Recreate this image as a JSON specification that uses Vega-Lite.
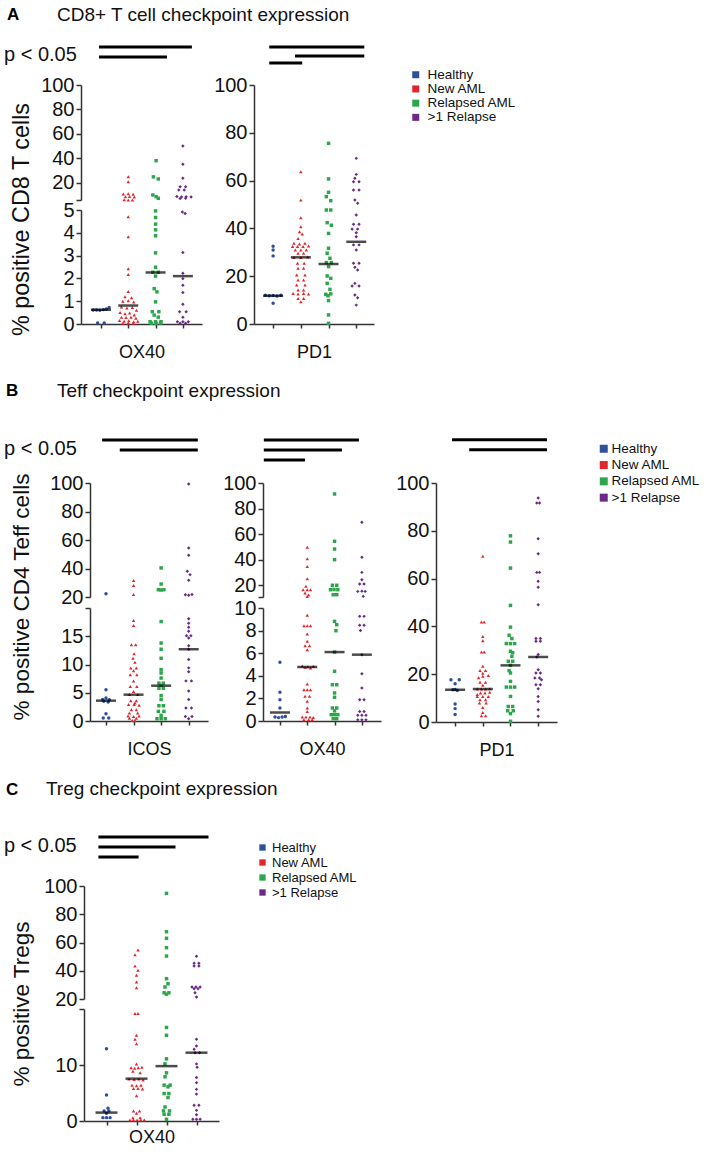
{
"$schema":"https://vega.github.io/schema/vega-lite/v6.json",
"background":"white",
"padding":{"left":3,"top":6,"right":5,"bottom":5},
"config":{"font":"Liberation Sans","view":{"stroke":null},
"axis":{"labelFontSize":20,"labelColor":"#111","labelFont":"Liberation Sans","titleFont":"Liberation Sans","titleFontSize":18,"titleFontWeight":"normal","titleColor":"#111","domainColor":"#333","domainWidth":1.5,"tickColor":"#333","tickWidth":1.5,"tickSize":5,"labelPadding":2,"grid":false,"labelOverlap":false},
"legend":{"labelFont":"Liberation Sans","labelColor":"#111","symbolStrokeWidth":0,"symbolOpacity":1}},
"datasets":{
"A1":[{"g":"Healthy","x":0.72,"y":0.61},{"g":"Healthy","x":0.84,"y":0.61},{"g":"Healthy","x":0.96,"y":0.6},{"g":"Healthy","x":1.09,"y":0.63},{"g":"Healthy","x":1.2,"y":0.66},{"g":"Healthy","x":1.3,"y":0.72},{"g":"Healthy","x":0.88,"y":0.04},{"g":"Healthy","x":1.12,"y":0.04},
{"g":"New AML","x":2.0,"y":25.1},{"g":"New AML","x":2.0,"y":21},{"g":"New AML","x":1.82,"y":11},{"g":"New AML","x":2.0,"y":11.3},{"g":"New AML","x":2.18,"y":10.8},{"g":"New AML","x":1.9,"y":8.8},{"g":"New AML","x":2.05,"y":8.9},{"g":"New AML","x":2.22,"y":8.6},{"g":"New AML","x":1.85,"y":6.3},{"g":"New AML","x":2.0,"y":6.1},{"g":"New AML","x":2.15,"y":6.2},{"g":"New AML","x":2.0,"y":4.7},{"g":"New AML","x":2.0,"y":3.83},{"g":"New AML","x":2.0,"y":2.42},{"g":"New AML","x":2.0,"y":2.17},{"g":"New AML","x":2.0,"y":1.43},{"g":"New AML","x":1.88,"y":1.2},{"g":"New AML","x":2.12,"y":1.15},{"g":"New AML","x":1.8,"y":1.0},{"g":"New AML","x":2.0,"y":1.02},{"g":"New AML","x":2.2,"y":0.97},{"g":"New AML","x":1.75,"y":0.75},{"g":"New AML","x":1.95,"y":0.7},{"g":"New AML","x":2.15,"y":0.72},{"g":"New AML","x":2.3,"y":0.6},{"g":"New AML","x":1.7,"y":0.5},{"g":"New AML","x":1.88,"y":0.45},{"g":"New AML","x":2.05,"y":0.48},{"g":"New AML","x":2.22,"y":0.4},{"g":"New AML","x":1.75,"y":0.3},{"g":"New AML","x":1.92,"y":0.28},{"g":"New AML","x":2.1,"y":0.3},{"g":"New AML","x":2.28,"y":0.25},{"g":"New AML","x":1.68,"y":0.15},{"g":"New AML","x":1.85,"y":0.12},{"g":"New AML","x":2.02,"y":0.14},{"g":"New AML","x":2.2,"y":0.1},{"g":"New AML","x":2.35,"y":0.12},{"g":"New AML","x":1.8,"y":0.03},{"g":"New AML","x":2.0,"y":0.04},{"g":"New AML","x":2.18,"y":0.03},
{"g":"Relapsed AML","x":3.02,"y":38.2},{"g":"Relapsed AML","x":2.92,"y":25},{"g":"Relapsed AML","x":3.1,"y":23.3},{"g":"Relapsed AML","x":2.9,"y":10.2},{"g":"Relapsed AML","x":3.02,"y":8.8},{"g":"Relapsed AML","x":3.1,"y":7.5},{"g":"Relapsed AML","x":3.0,"y":4.96},{"g":"Relapsed AML","x":3.0,"y":4.67},{"g":"Relapsed AML","x":3.0,"y":4.38},{"g":"Relapsed AML","x":3.0,"y":4.13},{"g":"Relapsed AML","x":3.0,"y":3.87},{"g":"Relapsed AML","x":3.0,"y":3.12},{"g":"Relapsed AML","x":3.0,"y":2.49},{"g":"Relapsed AML","x":2.9,"y":2.27},{"g":"Relapsed AML","x":3.1,"y":2.27},{"g":"Relapsed AML","x":3.0,"y":2.1},{"g":"Relapsed AML","x":2.95,"y":1.55},{"g":"Relapsed AML","x":3.05,"y":1.41},{"g":"Relapsed AML","x":3.0,"y":0.97},{"g":"Relapsed AML","x":2.88,"y":0.54},{"g":"Relapsed AML","x":3.12,"y":0.54},{"g":"Relapsed AML","x":2.95,"y":0.39},{"g":"Relapsed AML","x":3.1,"y":0.3},{"g":"Relapsed AML","x":2.8,"y":0.1},{"g":"Relapsed AML","x":3.0,"y":0.1},{"g":"Relapsed AML","x":3.2,"y":0.1},{"g":"Relapsed AML","x":2.85,"y":0.03},{"g":"Relapsed AML","x":3.02,"y":0.03},{"g":"Relapsed AML","x":3.18,"y":0.04},
{"g":">1 Relapse","x":4.0,"y":50.2},{"g":">1 Relapse","x":4.0,"y":35.3},{"g":">1 Relapse","x":4.0,"y":23.8},{"g":">1 Relapse","x":3.9,"y":17},{"g":">1 Relapse","x":4.1,"y":17},{"g":">1 Relapse","x":3.85,"y":14.3},{"g":">1 Relapse","x":4.05,"y":14.3},{"g":">1 Relapse","x":3.78,"y":9},{"g":">1 Relapse","x":3.95,"y":8.6},{"g":">1 Relapse","x":4.12,"y":8.8},{"g":">1 Relapse","x":4.3,"y":8.5},{"g":">1 Relapse","x":3.9,"y":7.4},{"g":">1 Relapse","x":4.1,"y":7.6},{"g":">1 Relapse","x":3.98,"y":4.91},{"g":">1 Relapse","x":4.08,"y":4.85},{"g":">1 Relapse","x":4.0,"y":3.14},{"g":">1 Relapse","x":4.0,"y":2.23},{"g":">1 Relapse","x":4.0,"y":1.99},{"g":">1 Relapse","x":4.0,"y":1.7},{"g":">1 Relapse","x":4.0,"y":1.38},{"g":">1 Relapse","x":4.0,"y":0.87},{"g":">1 Relapse","x":3.88,"y":0.54},{"g":">1 Relapse","x":4.12,"y":0.54},{"g":">1 Relapse","x":4.0,"y":0.3},{"g":">1 Relapse","x":3.8,"y":0.1},{"g":">1 Relapse","x":4.0,"y":0.1},{"g":">1 Relapse","x":4.2,"y":0.1},{"g":">1 Relapse","x":3.9,"y":0.03},{"g":">1 Relapse","x":4.1,"y":0.03}],
"A2":[{"g":"Healthy","x":1.0,"y":32.5},{"g":"Healthy","x":1.0,"y":31},{"g":"Healthy","x":1.0,"y":28.5},{"g":"Healthy","x":0.72,"y":12},{"g":"Healthy","x":0.86,"y":11.8},{"g":"Healthy","x":1.0,"y":11.9},{"g":"Healthy","x":1.14,"y":11.7},{"g":"Healthy","x":1.28,"y":12},{"g":"Healthy","x":1.0,"y":8.7},
{"g":"New AML","x":2.0,"y":63.7},{"g":"New AML","x":2.0,"y":51.9},{"g":"New AML","x":2.0,"y":44.5},{"g":"New AML","x":2.0,"y":40.7},{"g":"New AML","x":1.95,"y":38.6},{"g":"New AML","x":2.05,"y":37.7},{"g":"New AML","x":1.9,"y":35.8},{"g":"New AML","x":1.75,"y":33.8},{"g":"New AML","x":1.95,"y":33.5},{"g":"New AML","x":2.15,"y":33.8},{"g":"New AML","x":1.7,"y":32.4},{"g":"New AML","x":1.88,"y":32.4},{"g":"New AML","x":2.08,"y":32.4},{"g":"New AML","x":2.28,"y":32.6},{"g":"New AML","x":1.8,"y":31},{"g":"New AML","x":2.0,"y":31},{"g":"New AML","x":2.2,"y":31},{"g":"New AML","x":1.9,"y":29.6},{"g":"New AML","x":2.1,"y":29.6},{"g":"New AML","x":1.75,"y":27.8},{"g":"New AML","x":2.0,"y":27.8},{"g":"New AML","x":2.25,"y":28},{"g":"New AML","x":1.88,"y":25.4},{"g":"New AML","x":2.12,"y":25.4},{"g":"New AML","x":1.9,"y":23.3},{"g":"New AML","x":2.1,"y":23.3},{"g":"New AML","x":1.85,"y":20.5},{"g":"New AML","x":2.15,"y":20.5},{"g":"New AML","x":1.9,"y":18.4},{"g":"New AML","x":2.1,"y":18.4},{"g":"New AML","x":1.85,"y":16.3},{"g":"New AML","x":2.15,"y":16.3},{"g":"New AML","x":1.9,"y":14.2},{"g":"New AML","x":2.1,"y":14.2},{"g":"New AML","x":1.72,"y":12.8},{"g":"New AML","x":1.9,"y":12.6},{"g":"New AML","x":2.1,"y":12.8},{"g":"New AML","x":2.28,"y":12.6},{"g":"New AML","x":1.9,"y":10.7},{"g":"New AML","x":2.1,"y":10.7},{"g":"New AML","x":2.0,"y":9.3},
{"g":"Relapsed AML","x":3.0,"y":75.6},{"g":"Relapsed AML","x":3.0,"y":60.7},{"g":"Relapsed AML","x":3.0,"y":55.1},{"g":"Relapsed AML","x":2.92,"y":53.3},{"g":"Relapsed AML","x":3.08,"y":51.6},{"g":"Relapsed AML","x":2.92,"y":47.7},{"g":"Relapsed AML","x":3.08,"y":47.7},{"g":"Relapsed AML","x":2.95,"y":42.4},{"g":"Relapsed AML","x":3.1,"y":41.3},{"g":"Relapsed AML","x":3.0,"y":37.9},{"g":"Relapsed AML","x":3.0,"y":31.7},{"g":"Relapsed AML","x":2.95,"y":29.6},{"g":"Relapsed AML","x":3.05,"y":27.5},{"g":"Relapsed AML","x":2.92,"y":25.7},{"g":"Relapsed AML","x":3.1,"y":25.7},{"g":"Relapsed AML","x":3.0,"y":24},{"g":"Relapsed AML","x":2.95,"y":20.1},{"g":"Relapsed AML","x":3.08,"y":19.1},{"g":"Relapsed AML","x":2.95,"y":17},{"g":"Relapsed AML","x":3.05,"y":14.5},{"g":"Relapsed AML","x":2.9,"y":12.4},{"g":"Relapsed AML","x":3.08,"y":12.6},{"g":"Relapsed AML","x":2.98,"y":11.8},{"g":"Relapsed AML","x":3.0,"y":9.8},{"g":"Relapsed AML","x":3.0,"y":3.8},{"g":"Relapsed AML","x":3.0,"y":0.3},
{"g":">1 Relapse","x":4.0,"y":69.3},{"g":">1 Relapse","x":4.0,"y":62.6},{"g":">1 Relapse","x":3.95,"y":61},{"g":">1 Relapse","x":3.9,"y":59.5},{"g":">1 Relapse","x":4.1,"y":59.5},{"g":">1 Relapse","x":3.9,"y":56.1},{"g":">1 Relapse","x":4.1,"y":56.1},{"g":">1 Relapse","x":3.95,"y":51.9},{"g":">1 Relapse","x":4.05,"y":50.5},{"g":">1 Relapse","x":4.0,"y":45.6},{"g":">1 Relapse","x":3.9,"y":41.7},{"g":">1 Relapse","x":4.1,"y":41.7},{"g":">1 Relapse","x":3.85,"y":39.7},{"g":">1 Relapse","x":4.05,"y":39.7},{"g":">1 Relapse","x":4.0,"y":38.2},{"g":">1 Relapse","x":4.0,"y":36.5},{"g":">1 Relapse","x":3.9,"y":33.1},{"g":">1 Relapse","x":4.1,"y":33.1},{"g":">1 Relapse","x":4.0,"y":31},{"g":">1 Relapse","x":3.9,"y":25.4},{"g":">1 Relapse","x":4.1,"y":25.4},{"g":">1 Relapse","x":3.95,"y":23.7},{"g":">1 Relapse","x":4.05,"y":22.6},{"g":">1 Relapse","x":3.95,"y":17},{"g":">1 Relapse","x":3.85,"y":15.9},{"g":">1 Relapse","x":4.1,"y":15.9},{"g":">1 Relapse","x":3.95,"y":12.1},{"g":">1 Relapse","x":4.05,"y":11},{"g":">1 Relapse","x":4.0,"y":7.9}],
"B1":[{"g":"Healthy","x":1.0,"y":22.3},{"g":"Healthy","x":1.0,"y":5.55},{"g":"Healthy","x":1.0,"y":4.07},{"g":"Healthy","x":0.88,"y":3.8},{"g":"Healthy","x":1.12,"y":3.75},{"g":"Healthy","x":0.92,"y":3.5},{"g":"Healthy","x":1.08,"y":3.35},{"g":"Healthy","x":1.0,"y":1.3},{"g":"Healthy","x":0.9,"y":0.53},{"g":"Healthy","x":1.1,"y":0.53},
{"g":"New AML","x":2.0,"y":31.5},{"g":"New AML","x":2.0,"y":28},{"g":"New AML","x":2.0,"y":21.7},{"g":"New AML","x":2.0,"y":17.8},{"g":"New AML","x":2.0,"y":16.9},{"g":"New AML","x":1.92,"y":13.5},{"g":"New AML","x":2.08,"y":13.5},{"g":"New AML","x":2.02,"y":11.9},{"g":"New AML","x":1.98,"y":11.1},{"g":"New AML","x":2.05,"y":10.4},{"g":"New AML","x":1.9,"y":9.4},{"g":"New AML","x":2.1,"y":9.4},{"g":"New AML","x":2.0,"y":8.9},{"g":"New AML","x":1.88,"y":8.2},{"g":"New AML","x":2.12,"y":8.2},{"g":"New AML","x":2.0,"y":7.1},{"g":"New AML","x":1.88,"y":6.1},{"g":"New AML","x":2.12,"y":6.1},{"g":"New AML","x":2.0,"y":5.2},{"g":"New AML","x":1.85,"y":4.7},{"g":"New AML","x":2.15,"y":4.7},{"g":"New AML","x":1.9,"y":3.6},{"g":"New AML","x":2.1,"y":3.6},{"g":"New AML","x":2.05,"y":3.2},{"g":"New AML","x":1.82,"y":2.9},{"g":"New AML","x":2.02,"y":2.9},{"g":"New AML","x":2.2,"y":2.8},{"g":"New AML","x":1.92,"y":2.0},{"g":"New AML","x":2.1,"y":2.0},{"g":"New AML","x":1.85,"y":1.4},{"g":"New AML","x":2.15,"y":1.4},{"g":"New AML","x":1.8,"y":0.9},{"g":"New AML","x":2.0,"y":0.8},{"g":"New AML","x":2.2,"y":0.9},{"g":"New AML","x":1.85,"y":0.5},{"g":"New AML","x":2.1,"y":0.5},{"g":"New AML","x":1.95,"y":0.1},{"g":"New AML","x":2.05,"y":0.1},
{"g":"Relapsed AML","x":3.0,"y":40.4},{"g":"Relapsed AML","x":3.0,"y":29.1},{"g":"Relapsed AML","x":2.9,"y":25.1},{"g":"Relapsed AML","x":3.0,"y":24.9},{"g":"Relapsed AML","x":3.1,"y":25.1},{"g":"Relapsed AML","x":3.0,"y":17.6},{"g":"Relapsed AML","x":3.0,"y":13.8},{"g":"Relapsed AML","x":3.0,"y":12.7},{"g":"Relapsed AML","x":3.0,"y":11.1},{"g":"Relapsed AML","x":3.0,"y":9.1},{"g":"Relapsed AML","x":3.0,"y":8.5},{"g":"Relapsed AML","x":3.0,"y":7.6},{"g":"Relapsed AML","x":2.92,"y":6.7},{"g":"Relapsed AML","x":3.08,"y":6.7},{"g":"Relapsed AML","x":3.0,"y":6.3},{"g":"Relapsed AML","x":2.92,"y":5.8},{"g":"Relapsed AML","x":3.08,"y":5.8},{"g":"Relapsed AML","x":3.0,"y":4.5},{"g":"Relapsed AML","x":3.0,"y":3.8},{"g":"Relapsed AML","x":2.92,"y":2.7},{"g":"Relapsed AML","x":3.08,"y":2.7},{"g":"Relapsed AML","x":2.9,"y":1.7},{"g":"Relapsed AML","x":3.1,"y":1.7},{"g":"Relapsed AML","x":3.0,"y":1.0},{"g":"Relapsed AML","x":2.85,"y":0.4},{"g":"Relapsed AML","x":3.0,"y":0.4},{"g":"Relapsed AML","x":3.15,"y":0.4},
{"g":">1 Relapse","x":4.0,"y":99.3},{"g":">1 Relapse","x":4.0,"y":54.4},{"g":">1 Relapse","x":4.0,"y":49.3},{"g":">1 Relapse","x":3.95,"y":38.1},{"g":">1 Relapse","x":4.05,"y":35.7},{"g":">1 Relapse","x":4.0,"y":31.7},{"g":">1 Relapse","x":3.88,"y":21.6},{"g":">1 Relapse","x":4.0,"y":21.3},{"g":">1 Relapse","x":4.12,"y":21.8},{"g":">1 Relapse","x":4.0,"y":18.1},{"g":">1 Relapse","x":4.0,"y":17.3},{"g":">1 Relapse","x":4.0,"y":16.6},{"g":">1 Relapse","x":4.0,"y":15.9},{"g":">1 Relapse","x":3.92,"y":15.1},{"g":">1 Relapse","x":4.08,"y":15.1},{"g":">1 Relapse","x":4.0,"y":14.7},{"g":">1 Relapse","x":4.0,"y":13.3},{"g":">1 Relapse","x":4.0,"y":12.7},{"g":">1 Relapse","x":4.0,"y":10.9},{"g":">1 Relapse","x":4.0,"y":9.4},{"g":">1 Relapse","x":4.0,"y":8.7},{"g":">1 Relapse","x":3.9,"y":7.1},{"g":">1 Relapse","x":4.1,"y":7.1},{"g":">1 Relapse","x":4.0,"y":5.3},{"g":">1 Relapse","x":4.0,"y":3.8},{"g":">1 Relapse","x":3.9,"y":2.3},{"g":">1 Relapse","x":4.1,"y":2.3},{"g":">1 Relapse","x":3.88,"y":0.8},{"g":">1 Relapse","x":4.12,"y":0.8},{"g":">1 Relapse","x":4.0,"y":0.4}],
"B2":[{"g":"Healthy","x":1.0,"y":5.2},{"g":"Healthy","x":1.0,"y":2.54},{"g":"Healthy","x":1.0,"y":1.89},{"g":"Healthy","x":1.0,"y":1.15},{"g":"Healthy","x":0.82,"y":0.35},{"g":"Healthy","x":0.95,"y":0.3},{"g":"Healthy","x":1.08,"y":0.35},{"g":"Healthy","x":1.2,"y":0.4},
{"g":"New AML","x":2.0,"y":49.6},{"g":"New AML","x":2.0,"y":40.6},{"g":"New AML","x":2.0,"y":34.6},{"g":"New AML","x":2.0,"y":24.9},{"g":"New AML","x":1.95,"y":19},{"g":"New AML","x":1.85,"y":16.3},{"g":"New AML","x":2.0,"y":16.3},{"g":"New AML","x":2.12,"y":16.3},{"g":"New AML","x":1.92,"y":13.7},{"g":"New AML","x":2.05,"y":12.2},{"g":"New AML","x":2.0,"y":10.9},{"g":"New AML","x":2.0,"y":9.35},{"g":"New AML","x":1.88,"y":8.43},{"g":"New AML","x":2.0,"y":8.43},{"g":"New AML","x":2.12,"y":8.43},{"g":"New AML","x":2.0,"y":7.7},{"g":"New AML","x":2.0,"y":7.05},{"g":"New AML","x":1.92,"y":6.67},{"g":"New AML","x":2.08,"y":6.67},{"g":"New AML","x":2.0,"y":6.3},{"g":"New AML","x":1.82,"y":4.87},{"g":"New AML","x":1.92,"y":4.75},{"g":"New AML","x":2.02,"y":4.8},{"g":"New AML","x":2.12,"y":4.7},{"g":"New AML","x":2.22,"y":4.85},{"g":"New AML","x":2.0,"y":3.27},{"g":"New AML","x":1.88,"y":2.77},{"g":"New AML","x":2.0,"y":2.77},{"g":"New AML","x":2.12,"y":2.77},{"g":"New AML","x":1.92,"y":2.18},{"g":"New AML","x":2.08,"y":2.18},{"g":"New AML","x":2.0,"y":1.74},{"g":"New AML","x":2.0,"y":1.15},{"g":"New AML","x":2.0,"y":0.85},{"g":"New AML","x":1.82,"y":0.35},{"g":"New AML","x":1.95,"y":0.35},{"g":"New AML","x":2.1,"y":0.35},{"g":"New AML","x":2.22,"y":0.3},{"g":"New AML","x":1.88,"y":0.12},{"g":"New AML","x":2.05,"y":0.12},{"g":"New AML","x":2.18,"y":0.12},
{"g":"Relapsed AML","x":3.0,"y":91.4},{"g":"Relapsed AML","x":3.0,"y":54.3},{"g":"Relapsed AML","x":3.0,"y":48.2},{"g":"Relapsed AML","x":3.0,"y":39.9},{"g":"Relapsed AML","x":2.92,"y":19.8},{"g":"Relapsed AML","x":3.08,"y":19.8},{"g":"Relapsed AML","x":2.85,"y":16.3},{"g":"Relapsed AML","x":2.98,"y":16.5},{"g":"Relapsed AML","x":3.12,"y":16.3},{"g":"Relapsed AML","x":2.95,"y":12.4},{"g":"Relapsed AML","x":3.08,"y":12.4},{"g":"Relapsed AML","x":3.0,"y":8.82},{"g":"Relapsed AML","x":3.08,"y":8.52},{"g":"Relapsed AML","x":3.05,"y":7.99},{"g":"Relapsed AML","x":3.0,"y":6.1},{"g":"Relapsed AML","x":3.0,"y":4.4},{"g":"Relapsed AML","x":2.92,"y":3.21},{"g":"Relapsed AML","x":3.08,"y":3.21},{"g":"Relapsed AML","x":3.0,"y":2.48},{"g":"Relapsed AML","x":3.0,"y":2.1},{"g":"Relapsed AML","x":2.92,"y":1.15},{"g":"Relapsed AML","x":3.08,"y":1.15},{"g":"Relapsed AML","x":3.0,"y":0.9},{"g":"Relapsed AML","x":2.88,"y":0.56},{"g":"Relapsed AML","x":3.0,"y":0.56},{"g":"Relapsed AML","x":3.12,"y":0.56},{"g":"Relapsed AML","x":2.95,"y":0.2},{"g":"Relapsed AML","x":3.08,"y":0.2},
{"g":">1 Relapse","x":4.0,"y":69.2},{"g":">1 Relapse","x":4.0,"y":41.7},{"g":">1 Relapse","x":4.0,"y":29.9},{"g":">1 Relapse","x":4.0,"y":24.2},{"g":">1 Relapse","x":3.92,"y":20.8},{"g":">1 Relapse","x":4.08,"y":20.8},{"g":">1 Relapse","x":3.85,"y":15},{"g":">1 Relapse","x":4.0,"y":15.2},{"g":">1 Relapse","x":4.12,"y":15},{"g":">1 Relapse","x":4.05,"y":11.1},{"g":">1 Relapse","x":3.92,"y":9.26},{"g":">1 Relapse","x":4.08,"y":9.26},{"g":">1 Relapse","x":3.92,"y":8.47},{"g":">1 Relapse","x":4.08,"y":8.47},{"g":">1 Relapse","x":3.95,"y":8.0},{"g":">1 Relapse","x":4.0,"y":5.87},{"g":">1 Relapse","x":4.0,"y":4.19},{"g":">1 Relapse","x":4.0,"y":2.92},{"g":">1 Relapse","x":3.92,"y":1.89},{"g":">1 Relapse","x":4.08,"y":1.89},{"g":">1 Relapse","x":3.92,"y":0.85},{"g":">1 Relapse","x":4.08,"y":0.85},{"g":">1 Relapse","x":3.85,"y":0.5},{"g":">1 Relapse","x":4.0,"y":0.5},{"g":">1 Relapse","x":4.15,"y":0.5},{"g":">1 Relapse","x":3.85,"y":0.1},{"g":">1 Relapse","x":4.0,"y":0.1},{"g":">1 Relapse","x":4.15,"y":0.1}],
"B3":[{"g":"Healthy","x":0.85,"y":17.7},{"g":"Healthy","x":1.15,"y":17.7},{"g":"Healthy","x":1.0,"y":16},{"g":"Healthy","x":0.92,"y":13.5},{"g":"Healthy","x":1.08,"y":13.2},{"g":"Healthy","x":1.0,"y":13.6},{"g":"Healthy","x":1.0,"y":7.5},{"g":"Healthy","x":1.0,"y":5.6},{"g":"Healthy","x":1.0,"y":3.1},
{"g":"New AML","x":2.0,"y":69.3},{"g":"New AML","x":1.95,"y":41.8},{"g":"New AML","x":2.05,"y":41.8},{"g":"New AML","x":2.0,"y":35.8},{"g":"New AML","x":2.0,"y":34},{"g":"New AML","x":1.95,"y":29.3},{"g":"New AML","x":2.05,"y":29.3},{"g":"New AML","x":2.0,"y":23.3},{"g":"New AML","x":1.9,"y":21.5},{"g":"New AML","x":2.1,"y":21.5},{"g":"New AML","x":2.0,"y":20.4},{"g":"New AML","x":2.0,"y":19.1},{"g":"New AML","x":1.85,"y":18.5},{"g":"New AML","x":2.2,"y":19.5},{"g":"New AML","x":2.1,"y":16.6},{"g":"New AML","x":1.9,"y":16.6},{"g":"New AML","x":2.0,"y":15.4},{"g":"New AML","x":1.8,"y":13.8},{"g":"New AML","x":1.95,"y":13.8},{"g":"New AML","x":2.1,"y":13.8},{"g":"New AML","x":2.25,"y":13.9},{"g":"New AML","x":1.92,"y":12.1},{"g":"New AML","x":2.08,"y":12.1},{"g":"New AML","x":1.8,"y":11.5},{"g":"New AML","x":2.25,"y":12.5},{"g":"New AML","x":1.8,"y":10.7},{"g":"New AML","x":2.0,"y":10.7},{"g":"New AML","x":2.2,"y":10.7},{"g":"New AML","x":1.9,"y":9.3},{"g":"New AML","x":2.1,"y":9.3},{"g":"New AML","x":1.88,"y":7.9},{"g":"New AML","x":2.12,"y":7.9},{"g":"New AML","x":2.0,"y":6.1},{"g":"New AML","x":2.0,"y":4.0},{"g":"New AML","x":1.95,"y":2.6},{"g":"New AML","x":2.1,"y":2.6},
{"g":"Relapsed AML","x":3.0,"y":77.9},{"g":"Relapsed AML","x":3.0,"y":75.3},{"g":"Relapsed AML","x":3.0,"y":64.4},{"g":"Relapsed AML","x":3.0,"y":48.8},{"g":"Relapsed AML","x":3.0,"y":39.7},{"g":"Relapsed AML","x":2.95,"y":36.3},{"g":"Relapsed AML","x":3.05,"y":34.9},{"g":"Relapsed AML","x":2.85,"y":32.8},{"g":"Relapsed AML","x":3.0,"y":32.8},{"g":"Relapsed AML","x":3.15,"y":32.8},{"g":"Relapsed AML","x":3.0,"y":29.6},{"g":"Relapsed AML","x":3.08,"y":29},{"g":"Relapsed AML","x":3.05,"y":27.5},{"g":"Relapsed AML","x":2.92,"y":25.4},{"g":"Relapsed AML","x":3.08,"y":25.4},{"g":"Relapsed AML","x":3.0,"y":23.7},{"g":"Relapsed AML","x":2.95,"y":21.5},{"g":"Relapsed AML","x":3.0,"y":20.5},{"g":"Relapsed AML","x":3.0,"y":17},{"g":"Relapsed AML","x":2.85,"y":14.6},{"g":"Relapsed AML","x":3.0,"y":14.6},{"g":"Relapsed AML","x":3.15,"y":14.6},{"g":"Relapsed AML","x":3.0,"y":10.7},{"g":"Relapsed AML","x":2.92,"y":6.5},{"g":"Relapsed AML","x":3.08,"y":6.5},{"g":"Relapsed AML","x":2.9,"y":4.7},{"g":"Relapsed AML","x":3.1,"y":4.7},{"g":"Relapsed AML","x":3.0,"y":3.5},{"g":"Relapsed AML","x":3.0,"y":0.3},
{"g":">1 Relapse","x":4.0,"y":93.7},{"g":">1 Relapse","x":3.95,"y":91.6},{"g":">1 Relapse","x":4.05,"y":91.6},{"g":">1 Relapse","x":4.0,"y":76.7},{"g":">1 Relapse","x":4.0,"y":70.4},{"g":">1 Relapse","x":3.95,"y":62.6},{"g":">1 Relapse","x":4.05,"y":62.6},{"g":">1 Relapse","x":4.0,"y":58.9},{"g":">1 Relapse","x":4.0,"y":56.4},{"g":">1 Relapse","x":4.0,"y":49.1},{"g":">1 Relapse","x":3.92,"y":34.9},{"g":">1 Relapse","x":4.08,"y":34.9},{"g":">1 Relapse","x":3.92,"y":33.8},{"g":">1 Relapse","x":4.08,"y":33.8},{"g":">1 Relapse","x":4.0,"y":28.2},{"g":">1 Relapse","x":3.95,"y":27.2},{"g":">1 Relapse","x":4.0,"y":21.9},{"g":">1 Relapse","x":3.92,"y":20.5},{"g":">1 Relapse","x":4.08,"y":20.5},{"g":">1 Relapse","x":3.88,"y":18.4},{"g":">1 Relapse","x":4.05,"y":18.4},{"g":">1 Relapse","x":4.12,"y":17.7},{"g":">1 Relapse","x":3.92,"y":15.6},{"g":">1 Relapse","x":4.08,"y":15.6},{"g":">1 Relapse","x":4.0,"y":13.9},{"g":">1 Relapse","x":4.0,"y":10.7},{"g":">1 Relapse","x":4.0,"y":8.6},{"g":">1 Relapse","x":4.0,"y":5.1},{"g":">1 Relapse","x":4.0,"y":2.4}],
"C1":[{"g":"Healthy","x":1.0,"y":12.9},{"g":"Healthy","x":1.0,"y":4.64},{"g":"Healthy","x":1.05,"y":2.26},{"g":"Healthy","x":0.92,"y":1.8},{"g":"Healthy","x":1.08,"y":1.8},{"g":"Healthy","x":1.0,"y":1.4},{"g":"Healthy","x":0.88,"y":0.6},{"g":"Healthy","x":1.12,"y":0.6},{"g":"Healthy","x":1.0,"y":0.6},
{"g":"New AML","x":2.05,"y":54.7},{"g":"New AML","x":1.95,"y":51.4},{"g":"New AML","x":1.95,"y":43.4},{"g":"New AML","x":2.05,"y":40.4},{"g":"New AML","x":2.0,"y":36.8},{"g":"New AML","x":2.0,"y":32},{"g":"New AML","x":2.0,"y":28},{"g":"New AML","x":1.95,"y":19.2},{"g":"New AML","x":2.05,"y":19.2},{"g":"New AML","x":2.0,"y":15.3},{"g":"New AML","x":1.95,"y":14.6},{"g":"New AML","x":2.0,"y":13.8},{"g":"New AML","x":2.0,"y":10.2},{"g":"New AML","x":1.82,"y":9.5},{"g":"New AML","x":1.94,"y":9.4},{"g":"New AML","x":2.06,"y":9.5},{"g":"New AML","x":2.18,"y":9.6},{"g":"New AML","x":1.88,"y":8.9},{"g":"New AML","x":2.12,"y":8.6},{"g":"New AML","x":1.75,"y":7.5},{"g":"New AML","x":1.92,"y":7.4},{"g":"New AML","x":2.08,"y":7.5},{"g":"New AML","x":2.22,"y":7.3},{"g":"New AML","x":1.85,"y":6.4},{"g":"New AML","x":2.0,"y":6.3},{"g":"New AML","x":2.15,"y":6.4},{"g":"New AML","x":1.9,"y":5.8},{"g":"New AML","x":2.05,"y":5.8},{"g":"New AML","x":2.2,"y":5.7},{"g":"New AML","x":2.0,"y":4.5},{"g":"New AML","x":1.9,"y":1.8},{"g":"New AML","x":2.1,"y":1.8},{"g":"New AML","x":2.0,"y":1.4},{"g":"New AML","x":1.88,"y":0.6},{"g":"New AML","x":2.12,"y":0.6},{"g":"New AML","x":1.78,"y":0.2},{"g":"New AML","x":1.9,"y":0.2},{"g":"New AML","x":2.02,"y":0.2},{"g":"New AML","x":2.14,"y":0.2},{"g":"New AML","x":2.26,"y":0.2},
{"g":"Relapsed AML","x":3.0,"y":94.8},{"g":"Relapsed AML","x":3.0,"y":67.6},{"g":"Relapsed AML","x":3.0,"y":63},{"g":"Relapsed AML","x":3.0,"y":56.3},{"g":"Relapsed AML","x":3.0,"y":50.4},{"g":"Relapsed AML","x":3.0,"y":34.4},{"g":"Relapsed AML","x":3.05,"y":30.8},{"g":"Relapsed AML","x":2.95,"y":28.5},{"g":"Relapsed AML","x":2.92,"y":24.4},{"g":"Relapsed AML","x":3.08,"y":24.4},{"g":"Relapsed AML","x":3.0,"y":23.4},{"g":"Relapsed AML","x":3.0,"y":16.7},{"g":"Relapsed AML","x":3.0,"y":15.3},{"g":"Relapsed AML","x":3.0,"y":11.1},{"g":"Relapsed AML","x":2.95,"y":10.2},{"g":"Relapsed AML","x":3.0,"y":8.6},{"g":"Relapsed AML","x":2.95,"y":7.9},{"g":"Relapsed AML","x":2.92,"y":6.4},{"g":"Relapsed AML","x":3.05,"y":6.1},{"g":"Relapsed AML","x":3.12,"y":6.4},{"g":"Relapsed AML","x":2.92,"y":4.9},{"g":"Relapsed AML","x":3.08,"y":4.9},{"g":"Relapsed AML","x":3.05,"y":4.2},{"g":"Relapsed AML","x":2.95,"y":2.5},{"g":"Relapsed AML","x":2.9,"y":1.8},{"g":"Relapsed AML","x":3.1,"y":1.8},{"g":"Relapsed AML","x":2.92,"y":1.2},{"g":"Relapsed AML","x":3.08,"y":1.2},{"g":"Relapsed AML","x":3.0,"y":0.3},
{"g":">1 Relapse","x":4.0,"y":50.2},{"g":">1 Relapse","x":3.92,"y":45.3},{"g":">1 Relapse","x":4.08,"y":45.3},{"g":">1 Relapse","x":3.92,"y":43.4},{"g":">1 Relapse","x":4.08,"y":43.4},{"g":">1 Relapse","x":3.85,"y":28.5},{"g":">1 Relapse","x":3.98,"y":28.5},{"g":">1 Relapse","x":4.12,"y":28.5},{"g":">1 Relapse","x":3.92,"y":27.3},{"g":">1 Relapse","x":4.05,"y":27.3},{"g":">1 Relapse","x":3.95,"y":24.4},{"g":">1 Relapse","x":4.0,"y":21.4},{"g":">1 Relapse","x":4.0,"y":14.6},{"g":">1 Relapse","x":4.0,"y":13.4},{"g":">1 Relapse","x":3.92,"y":12.8},{"g":">1 Relapse","x":3.95,"y":12.2},{"g":">1 Relapse","x":4.1,"y":12.2},{"g":">1 Relapse","x":4.0,"y":10.2},{"g":">1 Relapse","x":4.02,"y":9.6},{"g":">1 Relapse","x":4.0,"y":7.75},{"g":">1 Relapse","x":4.0,"y":6.85},{"g":">1 Relapse","x":4.0,"y":5.65},{"g":">1 Relapse","x":4.0,"y":4.8},{"g":">1 Relapse","x":3.92,"y":2.8},{"g":">1 Relapse","x":4.08,"y":2.8},{"g":">1 Relapse","x":4.0,"y":1.9},{"g":">1 Relapse","x":4.0,"y":1.1},{"g":">1 Relapse","x":3.88,"y":0.3},{"g":">1 Relapse","x":4.0,"y":0.3},{"g":">1 Relapse","x":4.12,"y":0.3}],
"mA1":[{"g":"Healthy","x":1,"y":0.62},{"g":"New AML","x":2,"y":0.81},{"g":"Relapsed AML","x":3,"y":2.26},{"g":">1 Relapse","x":4,"y":2.1}],
"mA2":[{"g":"Healthy","x":1,"y":11.8},{"g":"New AML","x":2,"y":27.9},{"g":"Relapsed AML","x":3,"y":25.1},{"g":">1 Relapse","x":4,"y":34.4}],
"mB1":[{"g":"Healthy","x":1,"y":3.6},{"g":"New AML","x":2,"y":4.66},{"g":"Relapsed AML","x":3,"y":6.25},{"g":">1 Relapse","x":4,"y":12.7}],
"mB2":[{"g":"Healthy","x":1,"y":0.75},{"g":"New AML","x":2,"y":4.78},{"g":"Relapsed AML","x":3,"y":6.1},{"g":">1 Relapse","x":4,"y":5.87}],
"mB3":[{"g":"Healthy","x":1,"y":13.5},{"g":"New AML","x":2,"y":13.8},{"g":"Relapsed AML","x":3,"y":23.7},{"g":">1 Relapse","x":4,"y":27.2}],
"mC1":[{"g":"Healthy","x":1,"y":1.5},{"g":"New AML","x":2,"y":7.56},{"g":"Relapsed AML","x":3,"y":9.8},{"g":">1 Relapse","x":4,"y":12.2}],
"sA1":[{"x":0.93,"x2":4.33,"y":131},{"x":0.93,"x2":3.42,"y":122.9}],
"sA2":[{"x":0.86,"x2":4.29,"y":115.9},{"x":1.79,"x2":4.29,"y":112.1},{"x":0.86,"x2":2.05,"y":109.2}],
"sB1":[{"x":0.86,"x2":4.33,"y":130.2},{"x":1.5,"x2":4.33,"y":123.2}],
"sB2":[{"x":0.41,"x2":3.89,"y":133.7},{"x":0.41,"x2":3.27,"y":125.9},{"x":0.41,"x2":1.92,"y":118}],
"sB3":[{"x":0.89,"x2":4.32,"y":118.1},{"x":1.51,"x2":4.32,"y":113.9}],
"sC1":[{"x":0.73,"x2":4.4,"y":134.7},{"x":0.73,"x2":3.3,"y":127.6},{"x":0.73,"x2":2.07,"y":120.5}],
"one":[{"k":1}]
},
"resolve":{"scale":{"color":"independent"}},
"spacing":19,
"vconcat":[
{"hconcat":[
{"width":121,"height":239,"data":{"name":"A1"},"resolve":{"scale":{"y":"independent"}},
"layer":[
{"layer":[
{"transform":[{"filter":"datum.y > 5"}],"mark":{"type":"point","filled":true,"opacity":1,"size":12},
"encoding":{"x":{"field":"x","type":"quantitative","scale":{"domain":[0.27,4.7],"nice":false,"zero":false},"axis":{"values":[1,2,3,4],"labels":false,"tickSize":4,"title":"OX40","titlePadding":15}},
"y":{"field":"y","type":"quantitative","scale":{"domain":[6.1,100],"range":[115,0],"nice":false,"zero":false},"axis":{"orient":"left","values":[6.1,20,40,60,80,100],"labelExpr":"datum.value < 10 ? '' : datum.label","title":null}},
"color":{"field":"g","type":"nominal","scale":{"domain":["Healthy","New AML","Relapsed AML",">1 Relapse"],"range":["#2d4f9e","#e3242b","#2ca64a","#6b2a86"]},"legend":{"orient":"none","legendX":328,"legendY":-17,"title":null,"symbolType":"square","symbolSize":49,"labelFontSize":13.5,"rowPadding":-0.8,"padding":0,"labelOffset":5}},
"shape":{"field":"g","type":"nominal","scale":{"domain":["Healthy","New AML","Relapsed AML",">1 Relapse"],"range":["circle","triangle-up","square","diamond"]},"legend":null}}},
{"data":{"name":"sA1"},"mark":{"type":"rule","color":"#000","strokeWidth":3},
"encoding":{"x":{"field":"x","type":"quantitative","scale":{"domain":[0.27,4.7],"nice":false,"zero":false},"axis":{"values":[1,2,3,4],"labels":false,"tickSize":4,"title":"OX40","titlePadding":15}},"x2":{"field":"x2"},
"y":{"field":"y","type":"quantitative","scale":{"domain":[6.1,100],"range":[115,0],"nice":false,"zero":false},"axis":{"orient":"left","values":[6.1,20,40,60,80,100],"labelExpr":"datum.value < 10 ? '' : datum.label","title":null}}}},
{"data":{"name":"one"},"mark":{"type":"text","align":"left","baseline":"middle","fontSize":17,"fontWeight":"bold","color":"#000"},
"encoding":{"x":{"datum":-2.44,"type":"quantitative","scale":{"domain":[0.27,4.7],"nice":false,"zero":false},"axis":{"values":[1,2,3,4],"labels":false,"tickSize":4,"title":"OX40","titlePadding":15}},"y":{"datum":157.1,"type":"quantitative","scale":{"domain":[6.1,100],"range":[115,0],"nice":false,"zero":false},"axis":{"orient":"left","values":[6.1,20,40,60,80,100],"labelExpr":"datum.value < 10 ? '' : datum.label","title":null}},"text":{"value":"A"}}},
{"data":{"name":"one"},"mark":{"type":"text","align":"left","baseline":"middle","fontSize":19,"color":"#111"},
"encoding":{"x":{"datum":-0.61,"type":"quantitative","scale":{"domain":[0.27,4.7],"nice":false,"zero":false},"axis":{"values":[1,2,3,4],"labels":false,"tickSize":4,"title":"OX40","titlePadding":15}},"y":{"datum":157.1,"type":"quantitative","scale":{"domain":[6.1,100],"range":[115,0],"nice":false,"zero":false},"axis":{"orient":"left","values":[6.1,20,40,60,80,100],"labelExpr":"datum.value < 10 ? '' : datum.label","title":null}},"text":{"value":"CD8+ T cell checkpoint expression"}}},
{"data":{"name":"one"},"mark":{"type":"text","align":"left","baseline":"middle","fontSize":20,"color":"#111"},
"encoding":{"x":{"datum":-2.55,"type":"quantitative","scale":{"domain":[0.27,4.7],"nice":false,"zero":false},"axis":{"values":[1,2,3,4],"labels":false,"tickSize":4,"title":"OX40","titlePadding":15}},"y":{"datum":124.5,"type":"quantitative","scale":{"domain":[6.1,100],"range":[115,0],"nice":false,"zero":false},"axis":{"orient":"left","values":[6.1,20,40,60,80,100],"labelExpr":"datum.value < 10 ? '' : datum.label","title":null}},"text":{"value":"p < 0.05"}}}
]},
{"layer":[
{"transform":[{"filter":"datum.y <= 5"}],"mark":{"type":"point","filled":true,"opacity":1,"size":12},
"encoding":{"x":{"field":"x","type":"quantitative","scale":{"domain":[0.27,4.7],"nice":false,"zero":false},"axis":{"values":[1,2,3,4],"labels":false,"tickSize":4,"title":"OX40","titlePadding":15}},
"y":{"field":"y","type":"quantitative","scale":{"domain":[0,5],"range":[239,125],"nice":false,"zero":false},"axis":{"orient":"left","values":[0,1,2,3,4,5],"title":"% positive CD8 T cells","titleFontSize":23.4,"titleX":-60,"titleY":134,"titleBaseline":"middle"}},
"color":{"field":"g","type":"nominal","scale":{"domain":["Healthy","New AML","Relapsed AML",">1 Relapse"],"range":["#2d4f9e","#e3242b","#2ca64a","#6b2a86"]},"legend":{"orient":"none","legendX":328,"legendY":-17,"title":null,"symbolType":"square","symbolSize":49,"labelFontSize":13.5,"rowPadding":-0.8,"padding":0,"labelOffset":5}},
"shape":{"field":"g","type":"nominal","scale":{"domain":["Healthy","New AML","Relapsed AML",">1 Relapse"],"range":["circle","triangle-up","square","diamond"]},"legend":null}}},
{"data":{"name":"mA1"},"mark":{"type":"tick","orient":"horizontal","size":20,"thickness":2.5,"color":"#000"},
"encoding":{"x":{"field":"x","type":"quantitative","scale":{"domain":[0.27,4.7],"nice":false,"zero":false},"axis":{"values":[1,2,3,4],"labels":false,"tickSize":4,"title":"OX40","titlePadding":15}},
"y":{"field":"y","type":"quantitative","scale":{"domain":[0,5],"range":[239,125],"nice":false,"zero":false},"axis":{"orient":"left","values":[0,1,2,3,4,5],"title":"% positive CD8 T cells","titleFontSize":23.4,"titleX":-60,"titleY":134,"titleBaseline":"middle"}}}}
]}
]},
{"width":120,"height":239,"data":{"name":"A2"},
"layer":[
{"mark":{"type":"point","filled":true,"opacity":1,"size":12},
"encoding":{"x":{"field":"x","type":"quantitative","scale":{"domain":[0.31,4.64],"nice":false,"zero":false},"axis":{"values":[1,2,3,4],"labels":false,"tickSize":4,"title":"PD1","titlePadding":15}},
"y":{"field":"y","type":"quantitative","scale":{"domain":[0,100],"nice":false,"zero":false},"axis":{"values":[0,20,40,60,80,100],"title":null}},
"color":{"field":"g","type":"nominal","scale":{"domain":["Healthy","New AML","Relapsed AML",">1 Relapse"],"range":["#2d4f9e","#e3242b","#2ca64a","#6b2a86"]},"legend":{"orient":"none","legendX":328,"legendY":-17,"title":null,"symbolType":"square","symbolSize":49,"labelFontSize":13.5,"rowPadding":-0.8,"padding":0,"labelOffset":5}},
"shape":{"field":"g","type":"nominal","scale":{"domain":["Healthy","New AML","Relapsed AML",">1 Relapse"],"range":["circle","triangle-up","square","diamond"]},"legend":null}}},
{"data":{"name":"mA2"},"mark":{"type":"tick","orient":"horizontal","size":20,"thickness":2.5,"color":"#000"},
"encoding":{"x":{"field":"x","type":"quantitative","scale":{"domain":[0.31,4.64],"nice":false,"zero":false},"axis":{"values":[1,2,3,4],"labels":false,"tickSize":4,"title":"PD1","titlePadding":15}},"y":{"field":"y","type":"quantitative","scale":{"domain":[0,100],"nice":false,"zero":false},"axis":{"values":[0,20,40,60,80,100],"title":null}}}},
{"data":{"name":"sA2"},"mark":{"type":"rule","color":"#000","strokeWidth":3},
"encoding":{"x":{"field":"x","type":"quantitative","scale":{"domain":[0.31,4.64],"nice":false,"zero":false},"axis":{"values":[1,2,3,4],"labels":false,"tickSize":4,"title":"PD1","titlePadding":15}},"x2":{"field":"x2"},"y":{"field":"y","type":"quantitative","scale":{"domain":[0,100],"nice":false,"zero":false},"axis":{"values":[0,20,40,60,80,100],"title":null}}}}
]}
],"spacing":52,"bounds":"flush"},
{"hconcat":[
{"width":9,"height":10,"data":{"name":"one"},"mark":{"type":"point","opacity":0}},
{"hconcat":[
{"width":118,"height":238,"data":{"name":"B1"},"resolve":{"scale":{"y":"independent"}},
"layer":[
{"layer":[
{"transform":[{"filter":"datum.y > 20"}],"mark":{"type":"point","filled":true,"opacity":1,"size":12},
"encoding":{"x":{"field":"x","type":"quantitative","scale":{"domain":[0.42,4.7],"nice":false,"zero":false},"axis":{"values":[1,2,3,4],"labels":false,"tickSize":4,"title":"ICOS","titlePadding":15}},
"y":{"field":"y","type":"quantitative","scale":{"domain":[20,100],"range":[114,0],"nice":false,"zero":false},"axis":{"orient":"left","values":[20,40,60,80,100],"title":null}},
"color":{"field":"g","type":"nominal","scale":{"domain":["Healthy","New AML","Relapsed AML",">1 Relapse"],"range":["#2d4f9e","#e3242b","#2ca64a","#6b2a86"]},"legend":{"orient":"none","legendX":516,"legendY":-41,"title":null,"symbolType":"square","symbolSize":64,"labelFontSize":13.5,"rowPadding":1.3,"padding":0,"labelOffset":1}},
"shape":{"field":"g","type":"nominal","scale":{"domain":["Healthy","New AML","Relapsed AML",">1 Relapse"],"range":["circle","triangle-up","square","diamond"]},"legend":null}}},
{"data":{"name":"sB1"},"mark":{"type":"rule","color":"#000","strokeWidth":3},
"encoding":{"x":{"field":"x","type":"quantitative","scale":{"domain":[0.42,4.7],"nice":false,"zero":false},"axis":{"values":[1,2,3,4],"labels":false,"tickSize":4,"title":"ICOS","titlePadding":15}},"x2":{"field":"x2"},
"y":{"field":"y","type":"quantitative","scale":{"domain":[20,100],"range":[114,0],"nice":false,"zero":false},"axis":{"orient":"left","values":[20,40,60,80,100],"title":null}}}},
{"data":{"name":"one"},"mark":{"type":"text","align":"left","baseline":"middle","fontSize":17,"fontWeight":"bold","color":"#000"},
"encoding":{"x":{"datum":-2.63,"type":"quantitative","scale":{"domain":[0.42,4.7],"nice":false,"zero":false},"axis":{"values":[1,2,3,4],"labels":false,"tickSize":4,"title":"ICOS","titlePadding":15}},"y":{"datum":164.6,"type":"quantitative","scale":{"domain":[20,100],"range":[114,0],"nice":false,"zero":false},"axis":{"orient":"left","values":[20,40,60,80,100],"title":null}},"text":{"value":"B"}}},
{"data":{"name":"one"},"mark":{"type":"text","align":"left","baseline":"middle","fontSize":19,"color":"#111"},
"encoding":{"x":{"datum":-0.78,"type":"quantitative","scale":{"domain":[0.42,4.7],"nice":false,"zero":false},"axis":{"values":[1,2,3,4],"labels":false,"tickSize":4,"title":"ICOS","titlePadding":15}},"y":{"datum":164.6,"type":"quantitative","scale":{"domain":[20,100],"range":[114,0],"nice":false,"zero":false},"axis":{"orient":"left","values":[20,40,60,80,100],"title":null}},"text":{"value":"Teff checkpoint expression"}}},
{"data":{"name":"one"},"mark":{"type":"text","align":"left","baseline":"middle","fontSize":20,"color":"#111"},
"encoding":{"x":{"datum":-2.7,"type":"quantitative","scale":{"domain":[0.42,4.7],"nice":false,"zero":false},"axis":{"values":[1,2,3,4],"labels":false,"tickSize":4,"title":"ICOS","titlePadding":15}},"y":{"datum":123.9,"type":"quantitative","scale":{"domain":[20,100],"range":[114,0],"nice":false,"zero":false},"axis":{"orient":"left","values":[20,40,60,80,100],"title":null}},"text":{"value":"p < 0.05"}}}
]},
{"layer":[
{"transform":[{"filter":"datum.y <= 20"}],"mark":{"type":"point","filled":true,"opacity":1,"size":12},
"encoding":{"x":{"field":"x","type":"quantitative","scale":{"domain":[0.42,4.7],"nice":false,"zero":false},"axis":{"values":[1,2,3,4],"labels":false,"tickSize":4,"title":"ICOS","titlePadding":15}},
"y":{"field":"y","type":"quantitative","scale":{"domain":[0,20],"range":[238,125],"nice":false,"zero":false},"axis":{"orient":"left","values":[0,5,10,15,20],"labelExpr":"datum.value >= 20 ? '' : datum.label","title":"% positive CD4 Teff cells","titleFontSize":22.5,"titleX":-69,"titleY":113.5,"titleBaseline":"middle"}},
"color":{"field":"g","type":"nominal","scale":{"domain":["Healthy","New AML","Relapsed AML",">1 Relapse"],"range":["#2d4f9e","#e3242b","#2ca64a","#6b2a86"]},"legend":{"orient":"none","legendX":516,"legendY":-41,"title":null,"symbolType":"square","symbolSize":64,"labelFontSize":13.5,"rowPadding":1.3,"padding":0,"labelOffset":1}},
"shape":{"field":"g","type":"nominal","scale":{"domain":["Healthy","New AML","Relapsed AML",">1 Relapse"],"range":["circle","triangle-up","square","diamond"]},"legend":null}}},
{"data":{"name":"mB1"},"mark":{"type":"tick","orient":"horizontal","size":20,"thickness":2.5,"color":"#000"},
"encoding":{"x":{"field":"x","type":"quantitative","scale":{"domain":[0.42,4.7],"nice":false,"zero":false},"axis":{"values":[1,2,3,4],"labels":false,"tickSize":4,"title":"ICOS","titlePadding":15}},
"y":{"field":"y","type":"quantitative","scale":{"domain":[0,20],"range":[238,125],"nice":false,"zero":false},"axis":{"orient":"left","values":[0,5,10,15,20],"labelExpr":"datum.value >= 20 ? '' : datum.label","title":"% positive CD4 Teff cells","titleFontSize":22.5,"titleX":-69,"titleY":113.5,"titleBaseline":"middle"}}}}
]}
]},
{"width":118,"height":238,"data":{"name":"B2"},"resolve":{"scale":{"y":"independent"}},
"layer":[
{"layer":[
{"transform":[{"filter":"datum.y > 10"}],"mark":{"type":"point","filled":true,"opacity":1,"size":12},
"encoding":{"x":{"field":"x","type":"quantitative","scale":{"domain":[0.38,4.7],"nice":false,"zero":false},"axis":{"values":[1,2,3,4],"labels":false,"tickSize":4,"title":"OX40","titlePadding":15}},
"y":{"field":"y","type":"quantitative","scale":{"domain":[10.6,100],"range":[114,0],"nice":false,"zero":false},"axis":{"orient":"left","values":[10.6,20,40,60,80,100],"labelExpr":"datum.value < 15 ? '' : datum.label","title":null}},
"color":{"field":"g","type":"nominal","scale":{"domain":["Healthy","New AML","Relapsed AML",">1 Relapse"],"range":["#2d4f9e","#e3242b","#2ca64a","#6b2a86"]},"legend":{"orient":"none","legendX":516,"legendY":-41,"title":null,"symbolType":"square","symbolSize":64,"labelFontSize":13.5,"rowPadding":1.3,"padding":0,"labelOffset":1}},
"shape":{"field":"g","type":"nominal","scale":{"domain":["Healthy","New AML","Relapsed AML",">1 Relapse"],"range":["circle","triangle-up","square","diamond"]},"legend":null}}},
{"data":{"name":"sB2"},"mark":{"type":"rule","color":"#000","strokeWidth":3},
"encoding":{"x":{"field":"x","type":"quantitative","scale":{"domain":[0.38,4.7],"nice":false,"zero":false},"axis":{"values":[1,2,3,4],"labels":false,"tickSize":4,"title":"OX40","titlePadding":15}},"x2":{"field":"x2"},
"y":{"field":"y","type":"quantitative","scale":{"domain":[10.6,100],"range":[114,0],"nice":false,"zero":false},"axis":{"orient":"left","values":[10.6,20,40,60,80,100],"labelExpr":"datum.value < 15 ? '' : datum.label","title":null}}}}
]},
{"layer":[
{"transform":[{"filter":"datum.y <= 10"}],"mark":{"type":"point","filled":true,"opacity":1,"size":12},
"encoding":{"x":{"field":"x","type":"quantitative","scale":{"domain":[0.38,4.7],"nice":false,"zero":false},"axis":{"values":[1,2,3,4],"labels":false,"tickSize":4,"title":"OX40","titlePadding":15}},
"y":{"field":"y","type":"quantitative","scale":{"domain":[0,10],"range":[238,125],"nice":false,"zero":false},"axis":{"orient":"left","values":[0,2,4,6,8,10],"title":null}},
"color":{"field":"g","type":"nominal","scale":{"domain":["Healthy","New AML","Relapsed AML",">1 Relapse"],"range":["#2d4f9e","#e3242b","#2ca64a","#6b2a86"]},"legend":{"orient":"none","legendX":516,"legendY":-41,"title":null,"symbolType":"square","symbolSize":64,"labelFontSize":13.5,"rowPadding":1.3,"padding":0,"labelOffset":1}},
"shape":{"field":"g","type":"nominal","scale":{"domain":["Healthy","New AML","Relapsed AML",">1 Relapse"],"range":["circle","triangle-up","square","diamond"]},"legend":null}}},
{"data":{"name":"mB2"},"mark":{"type":"tick","orient":"horizontal","size":20,"thickness":2.5,"color":"#000"},
"encoding":{"x":{"field":"x","type":"quantitative","scale":{"domain":[0.38,4.7],"nice":false,"zero":false},"axis":{"values":[1,2,3,4],"labels":false,"tickSize":4,"title":"OX40","titlePadding":15}},
"y":{"field":"y","type":"quantitative","scale":{"domain":[0,10],"range":[238,125],"nice":false,"zero":false},"axis":{"orient":"left","values":[0,2,4,6,8,10],"title":null}}}}
]}
]},
{"width":121,"height":239,"data":{"name":"B3"},
"layer":[
{"mark":{"type":"point","filled":true,"opacity":1,"size":12},
"encoding":{"x":{"field":"x","type":"quantitative","scale":{"domain":[0.31,4.68],"nice":false,"zero":false},"axis":{"values":[1,2,3,4],"labels":false,"tickSize":4,"title":"PD1","titlePadding":15}},
"y":{"field":"y","type":"quantitative","scale":{"domain":[0,100],"nice":false,"zero":false},"axis":{"values":[0,20,40,60,80,100],"title":null}},
"color":{"field":"g","type":"nominal","scale":{"domain":["Healthy","New AML","Relapsed AML",">1 Relapse"],"range":["#2d4f9e","#e3242b","#2ca64a","#6b2a86"]},"legend":{"orient":"none","legendX":516,"legendY":-41,"title":null,"symbolType":"square","symbolSize":64,"labelFontSize":13.5,"rowPadding":1.3,"padding":0,"labelOffset":1}},
"shape":{"field":"g","type":"nominal","scale":{"domain":["Healthy","New AML","Relapsed AML",">1 Relapse"],"range":["circle","triangle-up","square","diamond"]},"legend":null}}},
{"data":{"name":"mB3"},"mark":{"type":"tick","orient":"horizontal","size":20,"thickness":2.5,"color":"#000"},
"encoding":{"x":{"field":"x","type":"quantitative","scale":{"domain":[0.31,4.68],"nice":false,"zero":false},"axis":{"values":[1,2,3,4],"labels":false,"tickSize":4,"title":"PD1","titlePadding":15}},"y":{"field":"y","type":"quantitative","scale":{"domain":[0,100],"nice":false,"zero":false},"axis":{"values":[0,20,40,60,80,100],"title":null}}}},
{"data":{"name":"sB3"},"mark":{"type":"rule","color":"#000","strokeWidth":3},
"encoding":{"x":{"field":"x","type":"quantitative","scale":{"domain":[0.31,4.68],"nice":false,"zero":false},"axis":{"values":[1,2,3,4],"labels":false,"tickSize":4,"title":"PD1","titlePadding":15}},"x2":{"field":"x2"},"y":{"field":"y","type":"quantitative","scale":{"domain":[0,100],"nice":false,"zero":false},"axis":{"values":[0,20,40,60,80,100],"title":null}}}}
]}
],"spacing":55,"bounds":"flush"}
],"spacing":0,"bounds":"flush"},
{"hconcat":[
{"width":3,"height":10,"data":{"name":"one"},"mark":{"type":"point","opacity":0}},
{"width":135,"height":235,"data":{"name":"C1"},"resolve":{"scale":{"y":"independent"}},
"layer":[
{"layer":[
{"transform":[{"filter":"datum.y > 20"}],"mark":{"type":"point","filled":true,"opacity":1,"size":12},
"encoding":{"x":{"field":"x","type":"quantitative","scale":{"domain":[0.25,4.75],"nice":false,"zero":false},"axis":{"values":[1,2,3,4],"labels":false,"tickSize":4,"title":"OX40","titlePadding":3}},
"y":{"field":"y","type":"quantitative","scale":{"domain":[20,100],"range":[113,0],"nice":false,"zero":false},"axis":{"orient":"left","values":[20,40,60,80,100],"title":null}},
"color":{"field":"g","type":"nominal","scale":{"domain":["Healthy","New AML","Relapsed AML",">1 Relapse"],"range":["#2d4f9e","#e3242b","#2ca64a","#6b2a86"]},"legend":{"orient":"none","legendX":175,"legendY":-45,"title":null,"symbolType":"square","symbolSize":40,"labelFontSize":13,"rowPadding":1,"padding":0,"labelOffset":3}},
"shape":{"field":"g","type":"nominal","scale":{"domain":["Healthy","New AML","Relapsed AML",">1 Relapse"],"range":["circle","triangle-up","square","diamond"]},"legend":null}}},
{"data":{"name":"sC1"},"mark":{"type":"rule","color":"#000","strokeWidth":3},
"encoding":{"x":{"field":"x","type":"quantitative","scale":{"domain":[0.25,4.75],"nice":false,"zero":false},"axis":{"values":[1,2,3,4],"labels":false,"tickSize":4,"title":"OX40","titlePadding":3}},"x2":{"field":"x2"},
"y":{"field":"y","type":"quantitative","scale":{"domain":[20,100],"range":[113,0],"nice":false,"zero":false},"axis":{"orient":"left","values":[20,40,60,80,100],"title":null}}}},
{"data":{"name":"one"},"mark":{"type":"text","align":"left","baseline":"middle","fontSize":17,"fontWeight":"bold","color":"#000"},
"encoding":{"x":{"datum":-2.35,"type":"quantitative","scale":{"domain":[0.25,4.75],"nice":false,"zero":false},"axis":{"values":[1,2,3,4],"labels":false,"tickSize":4,"title":"OX40","titlePadding":3}},"y":{"datum":168,"type":"quantitative","scale":{"domain":[20,100],"range":[113,0],"nice":false,"zero":false},"axis":{"orient":"left","values":[20,40,60,80,100],"title":null}},"text":{"value":"C"}}},
{"data":{"name":"one"},"mark":{"type":"text","align":"left","baseline":"middle","fontSize":19,"color":"#111"},
"encoding":{"x":{"datum":-1.02,"type":"quantitative","scale":{"domain":[0.25,4.75],"nice":false,"zero":false},"axis":{"values":[1,2,3,4],"labels":false,"tickSize":4,"title":"OX40","titlePadding":3}},"y":{"datum":168.7,"type":"quantitative","scale":{"domain":[20,100],"range":[113,0],"nice":false,"zero":false},"axis":{"orient":"left","values":[20,40,60,80,100],"title":null}},"text":{"value":"Treg checkpoint expression"}}},
{"data":{"name":"one"},"mark":{"type":"text","align":"left","baseline":"middle","fontSize":20,"color":"#111"},
"encoding":{"x":{"datum":-2.42,"type":"quantitative","scale":{"domain":[0.25,4.75],"nice":false,"zero":false},"axis":{"values":[1,2,3,4],"labels":false,"tickSize":4,"title":"OX40","titlePadding":3}},"y":{"datum":128.3,"type":"quantitative","scale":{"domain":[20,100],"range":[113,0],"nice":false,"zero":false},"axis":{"orient":"left","values":[20,40,60,80,100],"title":null}},"text":{"value":"p < 0.05"}}}
]},
{"layer":[
{"transform":[{"filter":"datum.y <= 20"}],"mark":{"type":"point","filled":true,"opacity":1,"size":12},
"encoding":{"x":{"field":"x","type":"quantitative","scale":{"domain":[0.25,4.75],"nice":false,"zero":false},"axis":{"values":[1,2,3,4],"labels":false,"tickSize":4,"title":"OX40","titlePadding":3}},
"y":{"field":"y","type":"quantitative","scale":{"domain":[0,20],"range":[235,123],"nice":false,"zero":false},"axis":{"orient":"left","values":[0,10,20],"labelExpr":"datum.value >= 20 ? '' : datum.label","title":"% positive Tregs","titleFontSize":22.5,"titleX":-63,"titleY":117.5,"titleBaseline":"middle"}},
"color":{"field":"g","type":"nominal","scale":{"domain":["Healthy","New AML","Relapsed AML",">1 Relapse"],"range":["#2d4f9e","#e3242b","#2ca64a","#6b2a86"]},"legend":{"orient":"none","legendX":175,"legendY":-45,"title":null,"symbolType":"square","symbolSize":40,"labelFontSize":13,"rowPadding":1,"padding":0,"labelOffset":3}},
"shape":{"field":"g","type":"nominal","scale":{"domain":["Healthy","New AML","Relapsed AML",">1 Relapse"],"range":["circle","triangle-up","square","diamond"]},"legend":null}}},
{"data":{"name":"mC1"},"mark":{"type":"tick","orient":"horizontal","size":22,"thickness":2.5,"color":"#000"},
"encoding":{"x":{"field":"x","type":"quantitative","scale":{"domain":[0.25,4.75],"nice":false,"zero":false},"axis":{"values":[1,2,3,4],"labels":false,"tickSize":4,"title":"OX40","titlePadding":3}},
"y":{"field":"y","type":"quantitative","scale":{"domain":[0,20],"range":[235,123],"nice":false,"zero":false},"axis":{"orient":"left","values":[0,10,20],"labelExpr":"datum.value >= 20 ? '' : datum.label","title":"% positive Tregs","titleFontSize":22.5,"titleX":-63,"titleY":117.5,"titleBaseline":"middle"}}}}
]}
]}
],"spacing":0,"bounds":"flush"}
]
}
